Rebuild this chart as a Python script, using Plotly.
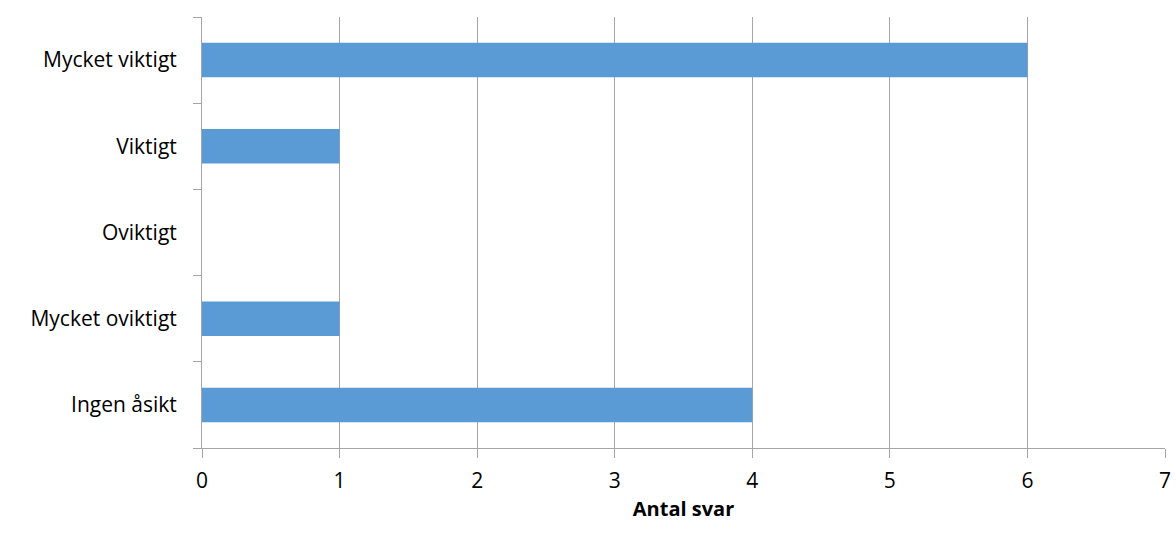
import plotly.graph_objects as go

categories = ["Ingen åsikt", "Mycket oviktigt", "Oviktigt", "Viktigt", "Mycket viktigt"]
values = [4, 1, 0, 1, 6]
x_ticks = [0, 1, 2, 3, 4, 5, 6, 7]
x_title = "Antal svar"

FONT = "Open Sans"
GRID = "#a6a6a6"

fig = go.Figure(go.Bar(
    x=values, y=categories, orientation="h",
    marker=dict(color="#5b9bd5", line=dict(width=0)),
))

fig.update_layout(
    width=1176, height=534,
    margin=dict(l=202, r=11, t=17, b=86),
    plot_bgcolor="white", paper_bgcolor="white",
    bargap=0.6, showlegend=False,
    font=dict(family=FONT, size=21, color="#000000"),
)
fig.update_xaxes(
    range=[0, 7], tickvals=x_ticks, ticktext=[str(v) for v in x_ticks],
    showgrid=True, gridcolor=GRID, gridwidth=1,
    showline=True, linecolor=GRID, linewidth=1,
    ticks="outside", ticklen=9, tickcolor=GRID,
    ticklabelstandoff=5, zeroline=False, automargin=False,
    title=dict(text="<b>" + x_title + "</b>", font=dict(size=20), standoff=8),
)
fig.update_yaxes(
    categoryorder="array", categoryarray=categories,
    tickson="boundaries", showgrid=False,
    showline=True, linecolor=GRID, linewidth=1,
    ticks="outside", ticklen=8, tickcolor=GRID,
    ticklabelstandoff=20, automargin=False,
)

fig.write_html("out.html")
